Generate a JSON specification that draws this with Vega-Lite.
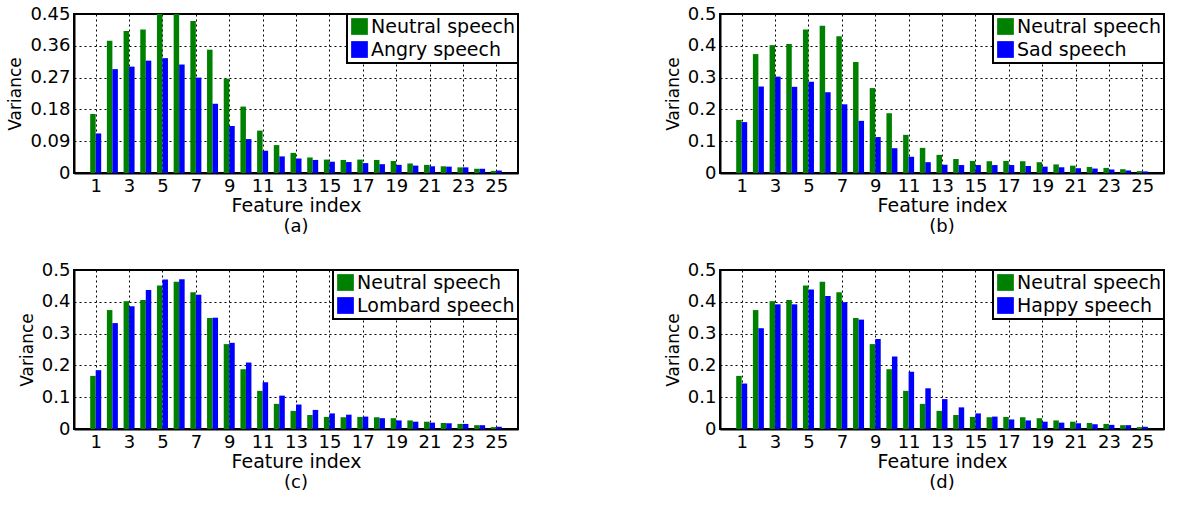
{
  "$schema": "https://vega.github.io/schema/vega-lite/v6.json",
  "background": "white",
  "padding": {"left": 5, "top": 4, "right": 5, "bottom": 5},
  "bounds": "flush",
  "columns": 2,
  "spacing": {"row": 97, "column": 202},
  "data": {
    "values": [
      {"feature": 1, "series": "Neutral speech", "variance": 0.167},
      {"feature": 2, "series": "Neutral speech", "variance": 0.374},
      {"feature": 3, "series": "Neutral speech", "variance": 0.402},
      {"feature": 4, "series": "Neutral speech", "variance": 0.406},
      {"feature": 5, "series": "Neutral speech", "variance": 0.451},
      {"feature": 6, "series": "Neutral speech", "variance": 0.463},
      {"feature": 7, "series": "Neutral speech", "variance": 0.430},
      {"feature": 8, "series": "Neutral speech", "variance": 0.349},
      {"feature": 9, "series": "Neutral speech", "variance": 0.267},
      {"feature": 10, "series": "Neutral speech", "variance": 0.188},
      {"feature": 11, "series": "Neutral speech", "variance": 0.120},
      {"feature": 12, "series": "Neutral speech", "variance": 0.079},
      {"feature": 13, "series": "Neutral speech", "variance": 0.057},
      {"feature": 14, "series": "Neutral speech", "variance": 0.044},
      {"feature": 15, "series": "Neutral speech", "variance": 0.038},
      {"feature": 16, "series": "Neutral speech", "variance": 0.037},
      {"feature": 17, "series": "Neutral speech", "variance": 0.038},
      {"feature": 18, "series": "Neutral speech", "variance": 0.037},
      {"feature": 19, "series": "Neutral speech", "variance": 0.034},
      {"feature": 20, "series": "Neutral speech", "variance": 0.027},
      {"feature": 21, "series": "Neutral speech", "variance": 0.023},
      {"feature": 22, "series": "Neutral speech", "variance": 0.019},
      {"feature": 23, "series": "Neutral speech", "variance": 0.016},
      {"feature": 24, "series": "Neutral speech", "variance": 0.012},
      {"feature": 25, "series": "Neutral speech", "variance": 0.006},
      {"feature": 1, "series": "Angry speech", "variance": 0.112},
      {"feature": 2, "series": "Angry speech", "variance": 0.294},
      {"feature": 3, "series": "Angry speech", "variance": 0.301},
      {"feature": 4, "series": "Angry speech", "variance": 0.318},
      {"feature": 5, "series": "Angry speech", "variance": 0.325},
      {"feature": 6, "series": "Angry speech", "variance": 0.307},
      {"feature": 7, "series": "Angry speech", "variance": 0.270},
      {"feature": 8, "series": "Angry speech", "variance": 0.196},
      {"feature": 9, "series": "Angry speech", "variance": 0.133},
      {"feature": 10, "series": "Angry speech", "variance": 0.096},
      {"feature": 11, "series": "Angry speech", "variance": 0.063},
      {"feature": 12, "series": "Angry speech", "variance": 0.047},
      {"feature": 13, "series": "Angry speech", "variance": 0.041},
      {"feature": 14, "series": "Angry speech", "variance": 0.037},
      {"feature": 15, "series": "Angry speech", "variance": 0.032},
      {"feature": 16, "series": "Angry speech", "variance": 0.031},
      {"feature": 17, "series": "Angry speech", "variance": 0.028},
      {"feature": 18, "series": "Angry speech", "variance": 0.025},
      {"feature": 19, "series": "Angry speech", "variance": 0.023},
      {"feature": 20, "series": "Angry speech", "variance": 0.021},
      {"feature": 21, "series": "Angry speech", "variance": 0.019},
      {"feature": 22, "series": "Angry speech", "variance": 0.018},
      {"feature": 23, "series": "Angry speech", "variance": 0.016},
      {"feature": 24, "series": "Angry speech", "variance": 0.012},
      {"feature": 25, "series": "Angry speech", "variance": 0.007},
      {"feature": 1, "series": "Sad speech", "variance": 0.160},
      {"feature": 2, "series": "Sad speech", "variance": 0.272},
      {"feature": 3, "series": "Sad speech", "variance": 0.303},
      {"feature": 4, "series": "Sad speech", "variance": 0.271},
      {"feature": 5, "series": "Sad speech", "variance": 0.287},
      {"feature": 6, "series": "Sad speech", "variance": 0.254},
      {"feature": 7, "series": "Sad speech", "variance": 0.216},
      {"feature": 8, "series": "Sad speech", "variance": 0.164},
      {"feature": 9, "series": "Sad speech", "variance": 0.113},
      {"feature": 10, "series": "Sad speech", "variance": 0.078},
      {"feature": 11, "series": "Sad speech", "variance": 0.051},
      {"feature": 12, "series": "Sad speech", "variance": 0.034},
      {"feature": 13, "series": "Sad speech", "variance": 0.026},
      {"feature": 14, "series": "Sad speech", "variance": 0.025},
      {"feature": 15, "series": "Sad speech", "variance": 0.025},
      {"feature": 16, "series": "Sad speech", "variance": 0.025},
      {"feature": 17, "series": "Sad speech", "variance": 0.025},
      {"feature": 18, "series": "Sad speech", "variance": 0.022},
      {"feature": 19, "series": "Sad speech", "variance": 0.020},
      {"feature": 20, "series": "Sad speech", "variance": 0.018},
      {"feature": 21, "series": "Sad speech", "variance": 0.015},
      {"feature": 22, "series": "Sad speech", "variance": 0.014},
      {"feature": 23, "series": "Sad speech", "variance": 0.011},
      {"feature": 24, "series": "Sad speech", "variance": 0.008},
      {"feature": 25, "series": "Sad speech", "variance": 0.005},
      {"feature": 1, "series": "Lombard speech", "variance": 0.185},
      {"feature": 2, "series": "Lombard speech", "variance": 0.333},
      {"feature": 3, "series": "Lombard speech", "variance": 0.386},
      {"feature": 4, "series": "Lombard speech", "variance": 0.437},
      {"feature": 5, "series": "Lombard speech", "variance": 0.470},
      {"feature": 6, "series": "Lombard speech", "variance": 0.471},
      {"feature": 7, "series": "Lombard speech", "variance": 0.422},
      {"feature": 8, "series": "Lombard speech", "variance": 0.350},
      {"feature": 9, "series": "Lombard speech", "variance": 0.271},
      {"feature": 10, "series": "Lombard speech", "variance": 0.209},
      {"feature": 11, "series": "Lombard speech", "variance": 0.147},
      {"feature": 12, "series": "Lombard speech", "variance": 0.105},
      {"feature": 13, "series": "Lombard speech", "variance": 0.077},
      {"feature": 14, "series": "Lombard speech", "variance": 0.060},
      {"feature": 15, "series": "Lombard speech", "variance": 0.049},
      {"feature": 16, "series": "Lombard speech", "variance": 0.045},
      {"feature": 17, "series": "Lombard speech", "variance": 0.039},
      {"feature": 18, "series": "Lombard speech", "variance": 0.034},
      {"feature": 19, "series": "Lombard speech", "variance": 0.027},
      {"feature": 20, "series": "Lombard speech", "variance": 0.023},
      {"feature": 21, "series": "Lombard speech", "variance": 0.020},
      {"feature": 22, "series": "Lombard speech", "variance": 0.018},
      {"feature": 23, "series": "Lombard speech", "variance": 0.016},
      {"feature": 24, "series": "Lombard speech", "variance": 0.012},
      {"feature": 25, "series": "Lombard speech", "variance": 0.007},
      {"feature": 1, "series": "Happy speech", "variance": 0.143},
      {"feature": 2, "series": "Happy speech", "variance": 0.317},
      {"feature": 3, "series": "Happy speech", "variance": 0.392},
      {"feature": 4, "series": "Happy speech", "variance": 0.392},
      {"feature": 5, "series": "Happy speech", "variance": 0.439},
      {"feature": 6, "series": "Happy speech", "variance": 0.418},
      {"feature": 7, "series": "Happy speech", "variance": 0.399},
      {"feature": 8, "series": "Happy speech", "variance": 0.344},
      {"feature": 9, "series": "Happy speech", "variance": 0.283},
      {"feature": 10, "series": "Happy speech", "variance": 0.228},
      {"feature": 11, "series": "Happy speech", "variance": 0.180},
      {"feature": 12, "series": "Happy speech", "variance": 0.128},
      {"feature": 13, "series": "Happy speech", "variance": 0.094},
      {"feature": 14, "series": "Happy speech", "variance": 0.068},
      {"feature": 15, "series": "Happy speech", "variance": 0.049},
      {"feature": 16, "series": "Happy speech", "variance": 0.039},
      {"feature": 17, "series": "Happy speech", "variance": 0.030},
      {"feature": 18, "series": "Happy speech", "variance": 0.027},
      {"feature": 19, "series": "Happy speech", "variance": 0.023},
      {"feature": 20, "series": "Happy speech", "variance": 0.020},
      {"feature": 21, "series": "Happy speech", "variance": 0.018},
      {"feature": 22, "series": "Happy speech", "variance": 0.015},
      {"feature": 23, "series": "Happy speech", "variance": 0.013},
      {"feature": 24, "series": "Happy speech", "variance": 0.012},
      {"feature": 25, "series": "Happy speech", "variance": 0.007}
    ]
  },
  "concat": [
    {
      "width": 444, "height": 159,
      "title": {"text": "(a)", "orient": "bottom"},
      "encoding": {
        "x": {"field": "feature", "type": "quantitative", "scale": {"domain": [0, 26], "nice": false, "zero": false}, "axis": {"values": [1, 3, 5, 7, 9, 11, 13, 15, 17, 19, 21, 23, 25], "title": "Feature index"}},
        "y": {"field": "variance", "type": "quantitative", "scale": {"domain": [0, 0.45], "nice": false}, "axis": {"values": [0, 0.09, 0.18, 0.27, 0.36, 0.45], "format": ".2~f", "title": "Variance"}},
        "color": {"field": "series", "type": "nominal", "scale": {"domain": ["Neutral speech", "Angry speech"], "range": ["#008000", "#0000ff"]}, "legend": {"title": null, "orient": "top-right", "offset": 0}}
      },
      "layer": [
        {"transform": [{"filter": "datum.series === 'Neutral speech'"}], "mark": {"type": "bar", "width": 5.5, "xOffset": -2.75, "clip": true}},
        {"transform": [{"filter": "datum.series === 'Angry speech'"}], "mark": {"type": "bar", "width": 5.5, "xOffset": 2.75, "clip": true}}
      ]
    },
    {
      "width": 444, "height": 159,
      "title": {"text": "(b)", "orient": "bottom"},
      "encoding": {
        "x": {"field": "feature", "type": "quantitative", "scale": {"domain": [0, 26], "nice": false, "zero": false}, "axis": {"values": [1, 3, 5, 7, 9, 11, 13, 15, 17, 19, 21, 23, 25], "title": "Feature index"}},
        "y": {"field": "variance", "type": "quantitative", "scale": {"domain": [0, 0.5], "nice": false}, "axis": {"values": [0, 0.1, 0.2, 0.3, 0.4, 0.5], "format": ".1~f", "title": "Variance"}},
        "color": {"field": "series", "type": "nominal", "scale": {"domain": ["Neutral speech", "Sad speech"], "range": ["#008000", "#0000ff"]}, "legend": {"title": null, "orient": "top-right", "offset": 0}}
      },
      "layer": [
        {"transform": [{"filter": "datum.series === 'Neutral speech'"}], "mark": {"type": "bar", "width": 5.5, "xOffset": -2.75, "clip": true}},
        {"transform": [{"filter": "datum.series === 'Sad speech'"}], "mark": {"type": "bar", "width": 5.5, "xOffset": 2.75, "clip": true}}
      ]
    },
    {
      "width": 444, "height": 159,
      "title": {"text": "(c)", "orient": "bottom"},
      "encoding": {
        "x": {"field": "feature", "type": "quantitative", "scale": {"domain": [0, 26], "nice": false, "zero": false}, "axis": {"values": [1, 3, 5, 7, 9, 11, 13, 15, 17, 19, 21, 23, 25], "title": "Feature index"}},
        "y": {"field": "variance", "type": "quantitative", "scale": {"domain": [0, 0.5], "nice": false}, "axis": {"values": [0, 0.1, 0.2, 0.3, 0.4, 0.5], "format": ".1~f", "title": "Variance"}},
        "color": {"field": "series", "type": "nominal", "scale": {"domain": ["Neutral speech", "Lombard speech"], "range": ["#008000", "#0000ff"]}, "legend": {"title": null, "orient": "top-right", "offset": 0}}
      },
      "layer": [
        {"transform": [{"filter": "datum.series === 'Neutral speech'"}], "mark": {"type": "bar", "width": 5.5, "xOffset": -2.75, "clip": true}},
        {"transform": [{"filter": "datum.series === 'Lombard speech'"}], "mark": {"type": "bar", "width": 5.5, "xOffset": 2.75, "clip": true}}
      ]
    },
    {
      "width": 444, "height": 159,
      "title": {"text": "(d)", "orient": "bottom"},
      "encoding": {
        "x": {"field": "feature", "type": "quantitative", "scale": {"domain": [0, 26], "nice": false, "zero": false}, "axis": {"values": [1, 3, 5, 7, 9, 11, 13, 15, 17, 19, 21, 23, 25], "title": "Feature index"}},
        "y": {"field": "variance", "type": "quantitative", "scale": {"domain": [0, 0.5], "nice": false}, "axis": {"values": [0, 0.1, 0.2, 0.3, 0.4, 0.5], "format": ".1~f", "title": "Variance"}},
        "color": {"field": "series", "type": "nominal", "scale": {"domain": ["Neutral speech", "Happy speech"], "range": ["#008000", "#0000ff"]}, "legend": {"title": null, "orient": "top-right", "offset": 0}}
      },
      "layer": [
        {"transform": [{"filter": "datum.series === 'Neutral speech'"}], "mark": {"type": "bar", "width": 5.5, "xOffset": -2.75, "clip": true}},
        {"transform": [{"filter": "datum.series === 'Happy speech'"}], "mark": {"type": "bar", "width": 5.5, "xOffset": 2.75, "clip": true}}
      ]
    }
  ],
  "resolve": {"scale": {"color": "independent", "x": "independent", "y": "independent"}},
  "config": {
    "font": "DejaVu Sans",
    "view": {"stroke": "black", "strokeWidth": 2},
    "bar": {"opacity": 1},
    "axis": {
      "labelFont": "DejaVu Sans", "labelFontSize": 18, "labelColor": "black",
      "titleFont": "DejaVu Sans", "titleFontWeight": "normal", "titleColor": "black",
      "domainColor": "black", "domainWidth": 2,
      "ticks": false, "tickSize": 0,
      "grid": true, "gridColor": "black", "gridDash": [2, 3], "gridOpacity": 1, "gridWidth": 1
    },
    "axisX": {"labelPadding": 4, "titleFontSize": 19, "titlePadding": 1, "labelAngle": 0},
    "axisY": {"labelPadding": 4, "titleFontSize": 17, "titlePadding": 5},
    "legend": {
      "orient": "top-right", "offset": 0,
      "strokeColor": "black", "strokeWidth": 2, "fillColor": "white",
      "padding": 3, "rowPadding": 3, "columnPadding": 0,
      "symbolType": "square", "symbolSize": 280, "symbolStrokeWidth": 0, "symbolOpacity": 1,
      "labelFont": "DejaVu Sans", "labelFontSize": 19, "labelColor": "black", "labelOffset": 2, "labelLimit": 400
    },
    "title": {"font": "DejaVu Sans", "fontSize": 18, "fontWeight": "normal", "color": "black", "offset": 3}
  }
}
